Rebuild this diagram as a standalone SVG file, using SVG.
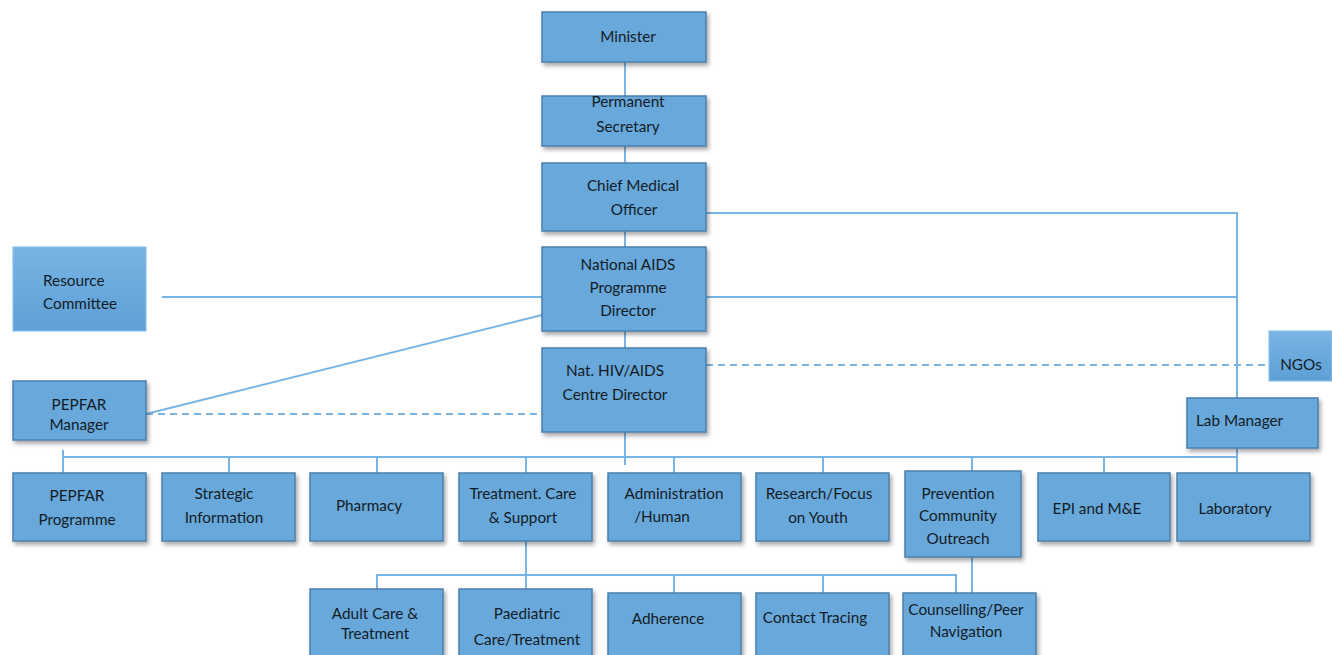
<svg xmlns="http://www.w3.org/2000/svg" width="1332" height="655" viewBox="0 0 1332 655">
<defs>
<filter id="sh" x="-10%" y="-10%" width="130%" height="140%">
<feDropShadow dx="2" dy="3" stdDeviation="2" flood-color="#000" flood-opacity="0.35"/>
</filter>
<linearGradient id="gr" x1="0" y1="0" x2="0" y2="1">
<stop offset="0" stop-color="#79b4e3"/>
<stop offset="1" stop-color="#5d9fd6"/>
</linearGradient>
<style>
.b{fill:#68a8da;stroke:#4a7fae;stroke-width:1.5;filter:url(#sh)}
.g{fill:url(#gr);stroke:#8cc0ea;stroke-width:1.2}
text{font-family:Lato,"Open Sans","Liberation Sans",sans-serif;font-size:15.3px;fill:#141c26;text-anchor:middle}
.l{text-anchor:start}
.c line,.c path{stroke:#7ab4e2;stroke-width:2;fill:none}
.c .d{stroke-dasharray:7 5}
</style>
</defs>
<g class="c" id="connectors">
<line x1="625" y1="62" x2="625" y2="96"/>
<line x1="625" y1="146" x2="625" y2="163"/>
<line x1="625" y1="231" x2="625" y2="247"/>
<line x1="625" y1="331" x2="625" y2="348"/>
<line x1="625" y1="432" x2="625" y2="465"/>
<path d="M706 213 H1237 V398"/>
<line x1="706" y1="297" x2="1237" y2="297"/>
<line x1="162" y1="297" x2="542" y2="297"/>
<line x1="146" y1="414" x2="542" y2="315"/>
<line class="d" x1="146" y1="414" x2="542" y2="414"/>
<line class="d" x1="706" y1="365" x2="1269" y2="365"/>
<line x1="63" y1="457" x2="1237" y2="457"/>
<line x1="63" y1="450" x2="63" y2="473"/>
<line x1="229" y1="457" x2="229" y2="473"/>
<line x1="377" y1="457" x2="377" y2="473"/>
<line x1="526" y1="457" x2="526" y2="473"/>
<line x1="674" y1="457" x2="674" y2="473"/>
<line x1="823" y1="457" x2="823" y2="473"/>
<line x1="972" y1="457" x2="972" y2="471"/>
<line x1="1104" y1="457" x2="1104" y2="473"/>
<line x1="1237" y1="448" x2="1237" y2="473"/>
<line x1="526" y1="541" x2="526" y2="589"/>
<path d="M377 589 V575 H956 V593"/>
<line x1="674" y1="575" x2="674" y2="593"/>
<line x1="823" y1="575" x2="823" y2="593"/>
<line x1="972" y1="557" x2="972" y2="593"/>
</g>
<g id="minister"><rect class="b" x="542" y="12" width="164" height="50"/><text x="628" y="42">Minister</text></g>
<g id="perm-sec"><rect class="b" x="542" y="96" width="164" height="50"/><text x="628" y="107">Permanent</text><text x="628" y="132">Secretary</text></g>
<g id="cmo"><rect class="b" x="542" y="163" width="164" height="68"/><text x="633" y="191">Chief Medical</text><text x="634" y="215">Officer</text></g>
<g id="napd"><rect class="b" x="542" y="247" width="164" height="84"/><text x="628" y="270">National AIDS</text><text x="628" y="293">Programme</text><text x="628" y="316">Director</text></g>
<g id="centre-dir"><rect class="b" x="542" y="348" width="164" height="84"/><text x="615" y="376">Nat. HIV/AIDS</text><text x="615" y="400">Centre Director</text></g>
<g id="resource"><rect class="g" x="13" y="247" width="133" height="84"/><text class="l" x="43" y="286">Resource</text><text class="l" x="43" y="309">Committee</text></g>
<g id="pepfar-mgr"><rect class="b" x="13" y="381" width="133" height="59"/><text x="79" y="410">PEPFAR</text><text x="79" y="430">Manager</text></g>
<g id="ngos"><rect class="g" x="1269" y="331" width="63" height="50"/><text x="1301" y="370">NGOs</text></g>
<g id="lab-mgr"><rect class="b" x="1187" y="398" width="131" height="50"/><text class="l" x="1196" y="426">Lab Manager</text></g>
<g id="pepfar-prog"><rect class="b" x="13" y="473" width="133" height="68"/><text x="77" y="501">PEPFAR</text><text x="77" y="525">Programme</text></g>
<g id="strategic"><rect class="b" x="162" y="473" width="133" height="68"/><text x="224" y="499">Strategic</text><text x="224" y="523">Information</text></g>
<g id="pharmacy"><rect class="b" x="310" y="473" width="133" height="68"/><text x="369" y="511">Pharmacy</text></g>
<g id="treatment"><rect class="b" x="459" y="473" width="133" height="68"/><text x="523" y="499">Treatment. Care</text><text x="523" y="523">&amp; Support</text></g>
<g id="admin"><rect class="b" x="608" y="473" width="133" height="68"/><text x="674" y="499">Administration</text><text x="662" y="522">/Human</text></g>
<g id="research"><rect class="b" x="756" y="473" width="133" height="68"/><text x="819" y="499">Research/Focus</text><text x="818" y="523">on Youth</text></g>
<g id="prevention"><rect class="b" x="905" y="471" width="116" height="86"/><text x="958" y="499">Prevention</text><text x="958" y="521">Community</text><text x="958" y="544">Outreach</text></g>
<g id="epi"><rect class="b" x="1038" y="473" width="132" height="68"/><text x="1097" y="514">EPI and M&amp;E</text></g>
<g id="laboratory"><rect class="b" x="1177" y="473" width="133" height="68"/><text x="1235" y="514">Laboratory</text></g>
<g id="adult"><rect class="b" x="310" y="589" width="133" height="80"/><text x="375" y="619">Adult Care &amp;</text><text x="375" y="639">Treatment</text></g>
<g id="paediatric"><rect class="b" x="459" y="589" width="133" height="80"/><text x="527" y="619">Paediatric</text><text x="527" y="645">Care/Treatment</text></g>
<g id="adherence"><rect class="b" x="608" y="593" width="133" height="80"/><text x="668" y="624">Adherence</text></g>
<g id="contact"><rect class="b" x="756" y="593" width="133" height="80"/><text x="815" y="623">Contact Tracing</text></g>
<g id="counselling"><rect class="b" x="903" y="593" width="133" height="80"/><text x="966" y="615">Counselling/Peer</text><text x="966" y="637">Navigation</text></g>
</svg>
